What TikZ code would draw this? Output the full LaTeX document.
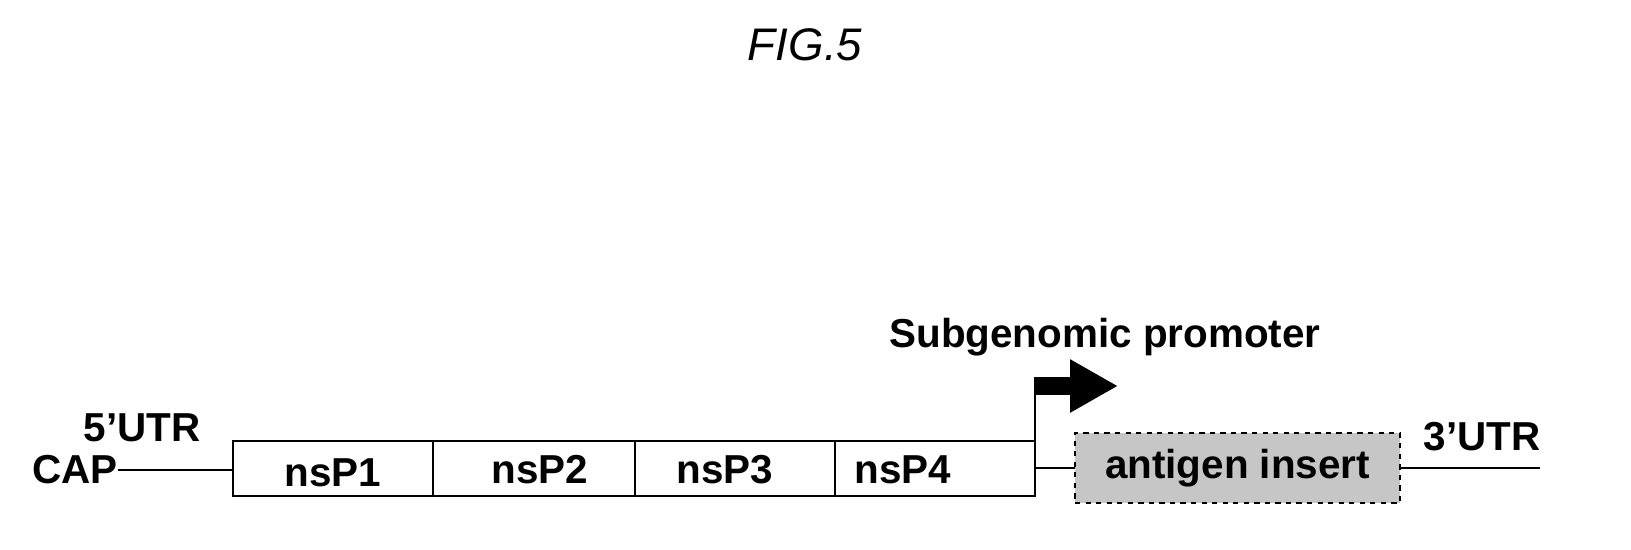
\documentclass[tikz,border=0pt]{standalone}
\usepackage{fontspec}
\setmainfont{Liberation Sans}
\usetikzlibrary{arrows.meta}
\begin{document}
\begin{tikzpicture}[x=0.02cm,y=-0.02cm,
  gene/.style={draw,line width=1.2pt,minimum height=1.1cm,inner sep=0pt,outer sep=0pt},
  lbl/.style={font=\fontsize{23}{26}\selectfont\bfseries,inner sep=0pt}]
\useasboundingbox (0,0) rectangle (1631,550);
\node[font=\fontsize{26}{30}\selectfont\itshape] (fig) at (805,45) {FIG.5};

% coding region
\node[gene,minimum width=4cm] (p1) at (333,468.5) {};
\node[gene,minimum width=4.04cm,anchor=west] (p2) at (p1.east) {};
\node[gene,minimum width=4cm,anchor=west] (p3) at (p2.east) {};
\node[gene,minimum width=4cm,anchor=west] (p4) at (p3.east) {};
\node[lbl] at (333,473) {nsP1};
\node[lbl] at (540,470) {nsP2};
\node[lbl] at (725,470) {nsP3};
\node[lbl] at (903,470) {nsP4};

\node[draw,dashed,line width=1.6pt,fill=gray!45,minimum width=6.5cm,minimum height=1.4cm,
  outer sep=0pt,font=\fontsize{23}{26}\selectfont\bfseries] (ag) at (1237.5,468) {antigen insert};

\node[lbl,anchor=east] (cap) at (118,470) {CAP};
\node[lbl] (utr5) at (142,428) {5'UTR};
\node[lbl] (utr3) at (1482,437) {3'UTR};
\node[lbl] (sgp) at (1105,337) {Subgenomic promoter};

\coordinate (end3) at (1540,468);
\coordinate (top) at (p4.north east |- 0,386);
\coordinate (tip) at (1118,386);

\draw[line width=1.2pt] (cap.east) -- (cap.east -| p1.west);
\draw[line width=1.2pt] (p4.east |- ag.west) -- (ag.west);
\draw[line width=1.2pt] (ag.east) -- (end3);
\draw[line width=1.2pt] (p4.north east) -- (top);
\draw[line width=0.36cm,-{Triangle[length=0.96cm,width=1cm]}] ([xshift=-0.6pt]top) -- (tip);
\end{tikzpicture}
\end{document}
